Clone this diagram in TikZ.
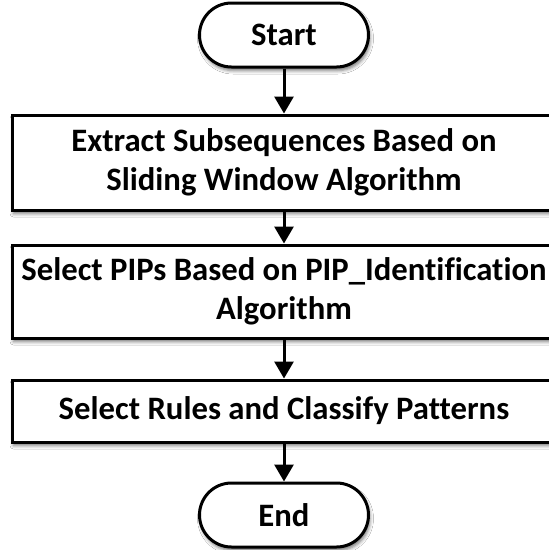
\documentclass[tikz,border=0pt]{standalone}
\usepackage{fontspec}
\setmainfont[Ligatures=NoCommon]{Carlito}
\usetikzlibrary{shadows.blur, arrows.meta}

\tikzset{
  base/.style={draw=black, fill=white, line width=3pt, align=center,
    font=\fontsize{32.7}{39}\selectfont\bfseries, inner sep=0pt,
    blur shadow={shadow xshift=1.5pt, shadow yshift=-3.5pt,
      shadow blur radius=3.5pt, shadow opacity=55}},
  terminal/.style={base, minimum width=169pt, minimum height=64pt, rounded corners=32pt},
  procbox/.style={base, minimum width=544pt},
  flow/.style={line width=3pt, -{Triangle[length=17pt, width=19pt]}}
}

\begin{document}
\begin{tikzpicture}[x=1pt, y=-1pt]
  \useasboundingbox[fill=white] (0,0) rectangle (549,550);

  \node[terminal] (start) at (284,35) {Start};
  \node[procbox, minimum height=95pt] (extract) at (284,162.5)
    {Extract Subsequences Based on\\Sliding Window Algorithm};
  \node[procbox, minimum height=93pt] (pips) at (284,291.5)
    {Select PIPs Based on PIP\_Identification\\Algorithm};
  \node[procbox, minimum height=62pt] (rules) at (284,411)
    {Select Rules and Classify Patterns};
  \node[terminal] (end) at (284,515) {End};

  \draw[flow] (start) -- (extract);
  \draw[flow] (extract) -- (pips);
  \draw[flow] (pips) -- (rules);
  \draw[flow] (rules) -- (end);
\end{tikzpicture}
\end{document}
